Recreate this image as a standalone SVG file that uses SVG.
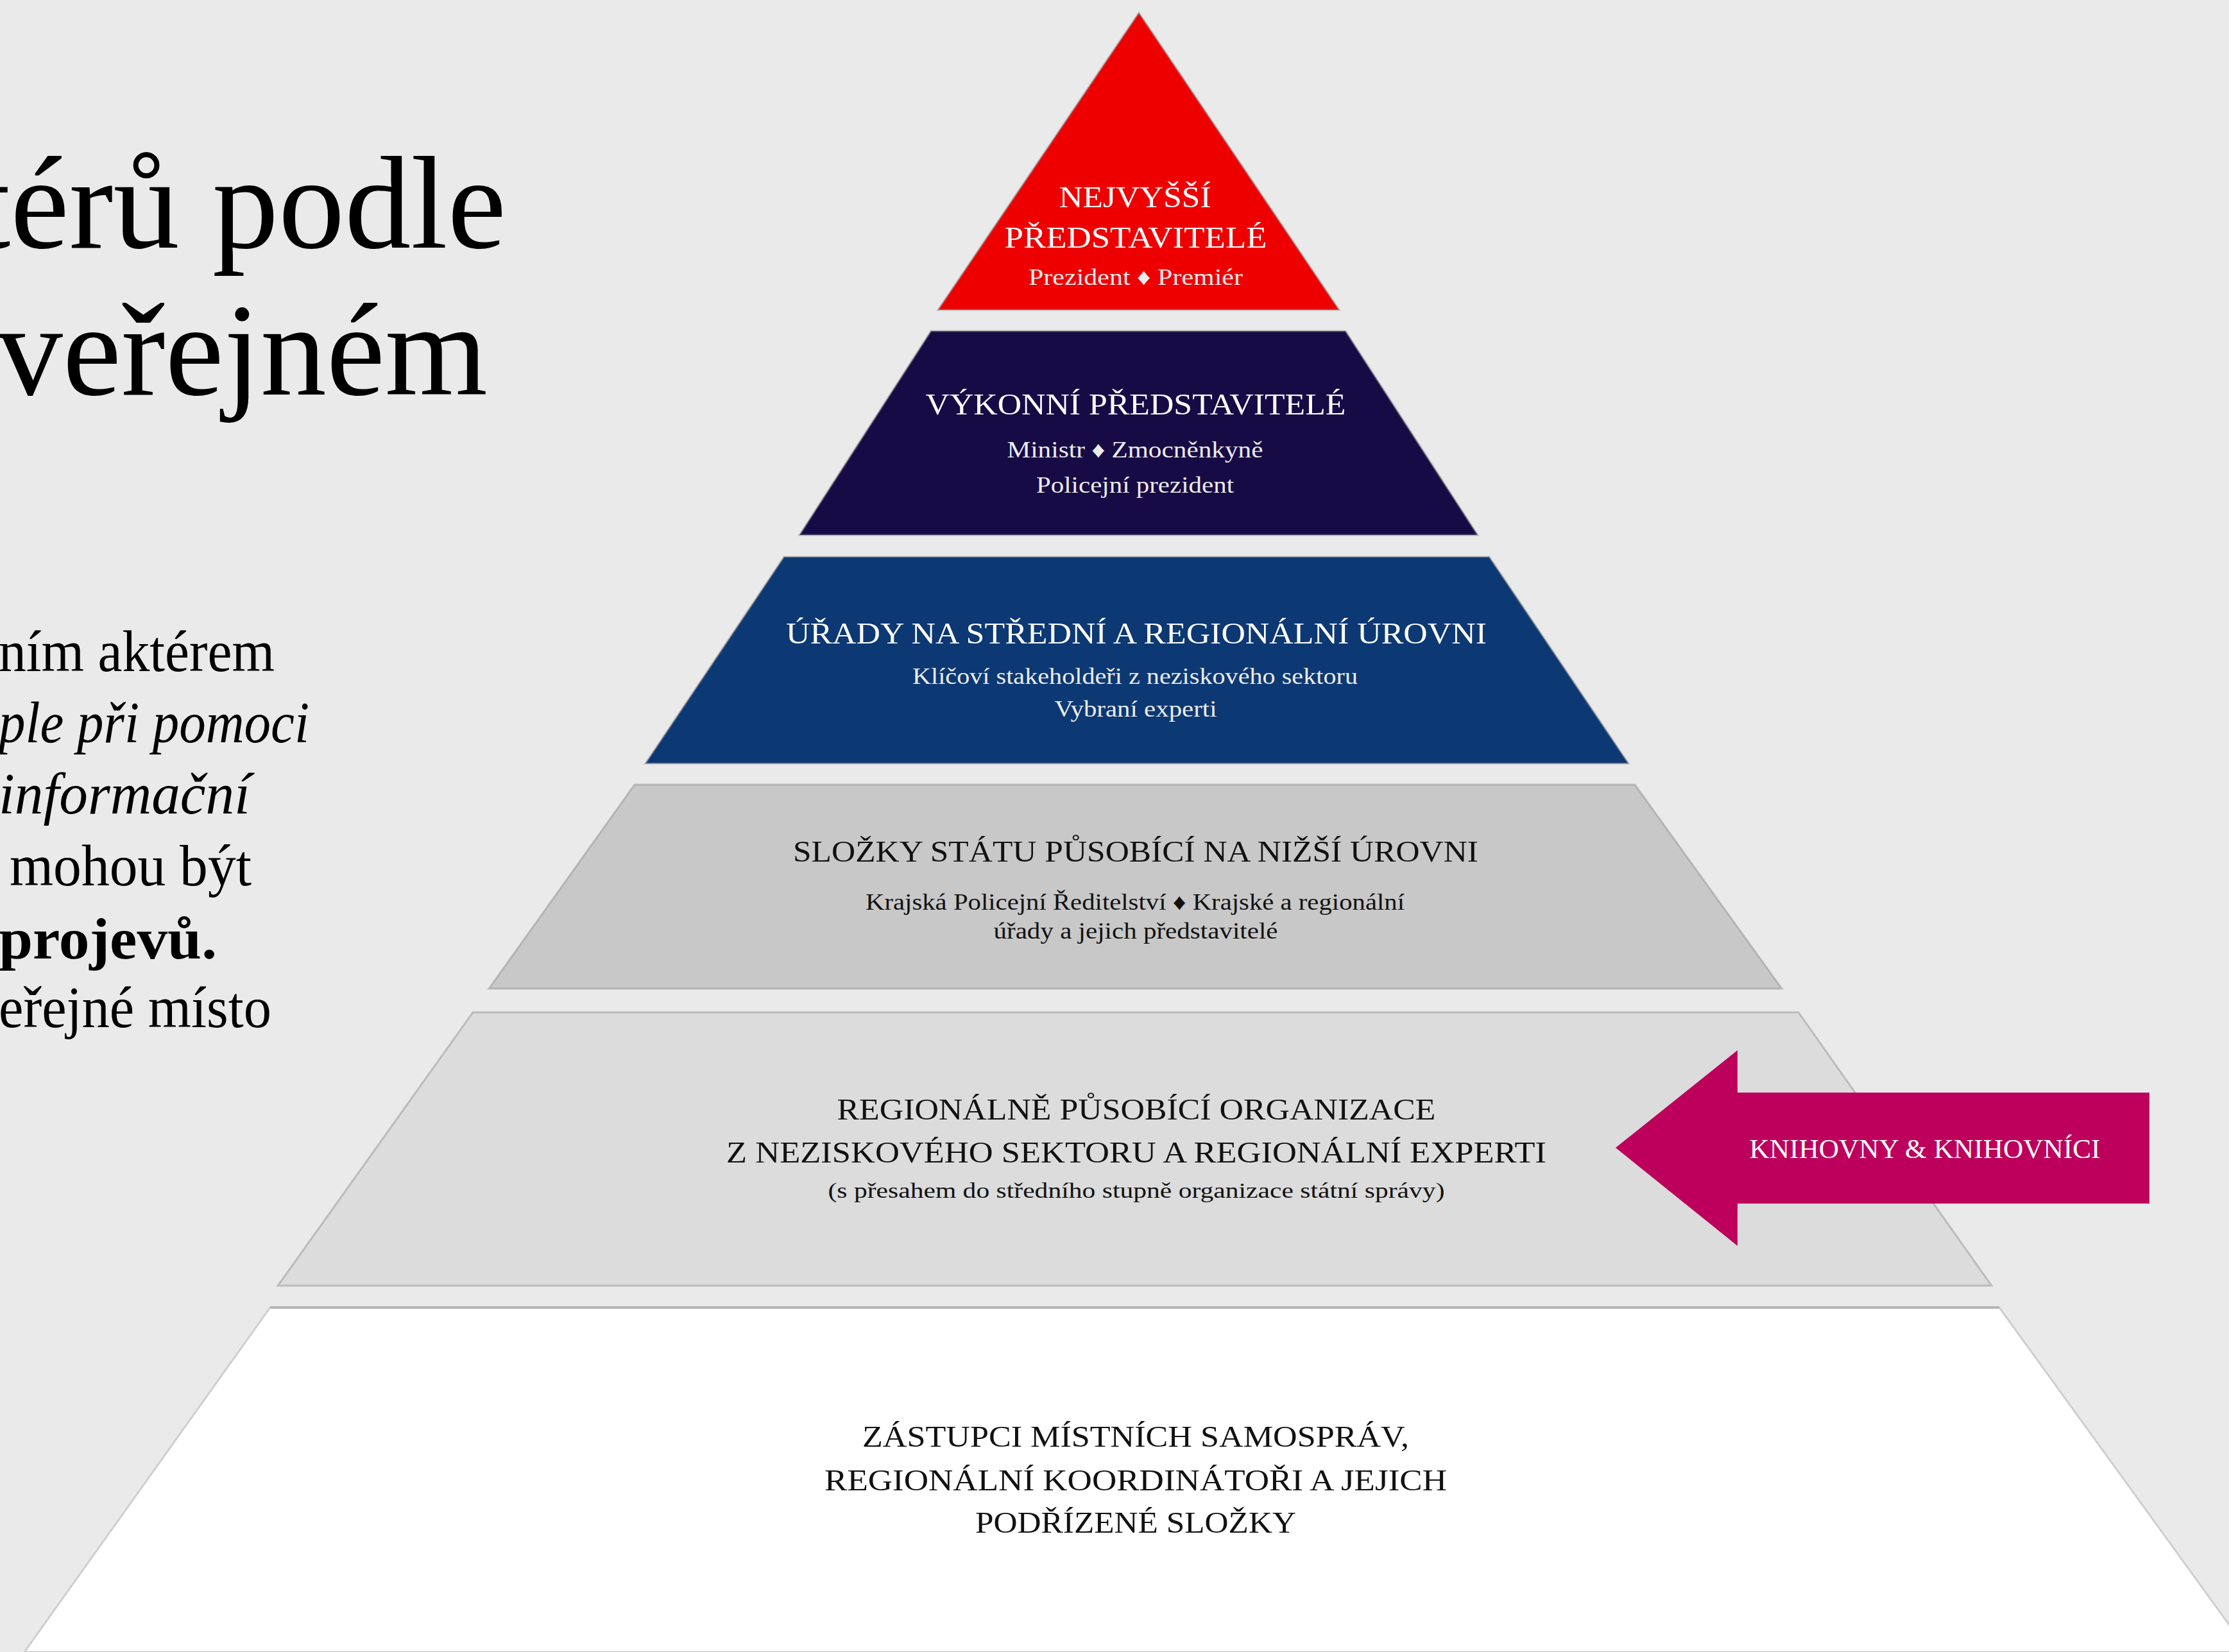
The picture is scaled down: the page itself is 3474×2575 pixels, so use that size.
<svg xmlns="http://www.w3.org/2000/svg" width="3474" height="2575" viewBox="0 0 3474 2575">
<style>
.t{font-family:"Liberation Serif","DejaVu Serif",serif;text-anchor:middle}
.h{font-size:47px}
.s{font-size:35px}
.w{fill:#ffffff}
.w2{fill:#ececec}
.k{fill:#111111}
.b{font-family:"Liberation Serif","DejaVu Serif",serif;fill:#000;text-anchor:end}
.edge{stroke:#8c8c8c;stroke-opacity:0.45;stroke-width:3;stroke-linejoin:miter}
</style>
<rect x="0" y="0" width="3474" height="2575" fill="#eaeaea"/>

<g id="title">
<text class="b" x="789" y="386" font-size="205" textLength="830" lengthAdjust="spacingAndGlyphs">térů podle</text>
<text class="b" x="760" y="615" font-size="205" textLength="765" lengthAdjust="spacingAndGlyphs">veřejném</text>
</g>

<g id="body-text">
<text class="b" x="428" y="1046" font-size="91" textLength="430" lengthAdjust="spacingAndGlyphs">ním aktérem</text>
<text class="b" x="482" y="1157" font-size="91" font-style="italic" textLength="484" lengthAdjust="spacingAndGlyphs">ple při pomoci</text>
<text class="b" x="390" y="1268" font-size="91" font-style="italic" textLength="392" lengthAdjust="spacingAndGlyphs">informační</text>
<text class="b" x="392" y="1380" font-size="91" textLength="377" lengthAdjust="spacingAndGlyphs">mohou být</text>
<text class="b" x="338" y="1494" font-size="91" font-weight="bold" textLength="340" lengthAdjust="spacingAndGlyphs">projevů.</text>
<text class="b" x="423" y="1601" font-size="91" textLength="425" lengthAdjust="spacingAndGlyphs">eřejné místo</text>
</g>

<g id="level1-nejvyssi">
<polygon class="edge" points="1775,20 2087,483 1462,483" fill="#ef0000"/>
<text class="t h w" x="1769" y="323" textLength="237" lengthAdjust="spacingAndGlyphs">NEJVYŠŠÍ</text>
<text class="t h w" x="1770" y="386" textLength="409" lengthAdjust="spacingAndGlyphs">PŘEDSTAVITELÉ</text>
<text class="t w2" x="1770" y="444" font-size="36" textLength="334" lengthAdjust="spacingAndGlyphs">Prezident ♦ Premiér</text>
</g>

<g id="level2-vykonni">
<polygon class="edge" points="1451,516 2097,516 2303,834 1246,834" fill="#170b46"/>
<text class="t h w" x="1770" y="646" textLength="655" lengthAdjust="spacingAndGlyphs">VÝKONNÍ PŘEDSTAVITELÉ</text>
<text class="t s w2" x="1769" y="713" textLength="399" lengthAdjust="spacingAndGlyphs">Ministr ♦ Zmocněnkyně</text>
<text class="t s w2" x="1769" y="768" textLength="308" lengthAdjust="spacingAndGlyphs">Policejní prezident</text>
</g>

<g id="level3-urady">
<polygon class="edge" points="1222,868 2321,868 2538,1190 1006,1190" fill="#0c3873"/>
<text class="t h w" x="1771" y="1003" textLength="1092" lengthAdjust="spacingAndGlyphs">ÚŘADY NA STŘEDNÍ A REGIONÁLNÍ ÚROVNI</text>
<text class="t s w2" x="1769" y="1066" textLength="694" lengthAdjust="spacingAndGlyphs">Klíčoví stakeholdeři z neziskového sektoru</text>
<text class="t s w2" x="1770" y="1117" textLength="253" lengthAdjust="spacingAndGlyphs">Vybraní experti</text>
</g>

<g id="level4-slozky">
<polygon class="edge" points="989,1223 2548,1223 2777,1541 762,1541" fill="#c8c8c8"/>
<text class="t h k" x="1770" y="1343" textLength="1068" lengthAdjust="spacingAndGlyphs">SLOŽKY STÁTU PŮSOBÍCÍ NA NIŽŠÍ ÚROVNI</text>
<text class="t s k" x="1769" y="1418" textLength="840" lengthAdjust="spacingAndGlyphs">Krajská Policejní Ředitelství ♦ Krajské a regionální</text>
<text class="t s k" x="1770" y="1463" textLength="443" lengthAdjust="spacingAndGlyphs">úřady a jejich představitelé</text>
</g>

<g id="level5-regionalni">
<polygon class="edge" points="737,1578 2803,1578 3104,2004 433,2004" fill="#dcdcdc"/>
<text class="t h k" x="1771" y="1745" textLength="933" lengthAdjust="spacingAndGlyphs">REGIONÁLNĚ PŮSOBÍCÍ ORGANIZACE</text>
<text class="t h k" x="1771" y="1812" textLength="1278" lengthAdjust="spacingAndGlyphs">Z NEZISKOVÉHO SEKTORU A REGIONÁLNÍ EXPERTI</text>
<text class="t k" x="1771" y="1867" font-size="34" textLength="961" lengthAdjust="spacingAndGlyphs">(s přesahem do středního stupně organizace státní správy)</text>
</g>

<g id="level6-zastupci">
<polygon points="421,2038 3116,2038 3505,2575 38,2575" fill="#ffffff" stroke="#cfcfcf" stroke-width="3"/>
<line x1="421" y1="2038" x2="3116" y2="2038" stroke="#b4b4b4" stroke-width="4"/>
<text class="t h k" x="1770" y="2255" textLength="852" lengthAdjust="spacingAndGlyphs">ZÁSTUPCI MÍSTNÍCH SAMOSPRÁV,</text>
<text class="t h k" x="1770" y="2323" textLength="970" lengthAdjust="spacingAndGlyphs">REGIONÁLNÍ KOORDINÁTOŘI A JEJICH</text>
<text class="t h k" x="1770" y="2389" textLength="500" lengthAdjust="spacingAndGlyphs">PODŘÍZENÉ SLOŽKY</text>
</g>

<g id="knihovny-arrow">
<polygon points="2518,1789 2708,1637 2708,1703 3350,1703 3350,1876 2708,1876 2708,1942" fill="#bd005b"/>
<text class="t w" x="3000" y="1805" font-size="42" textLength="547" lengthAdjust="spacingAndGlyphs">KNIHOVNY &amp; KNIHOVNÍCI</text>
</g>
</svg>
